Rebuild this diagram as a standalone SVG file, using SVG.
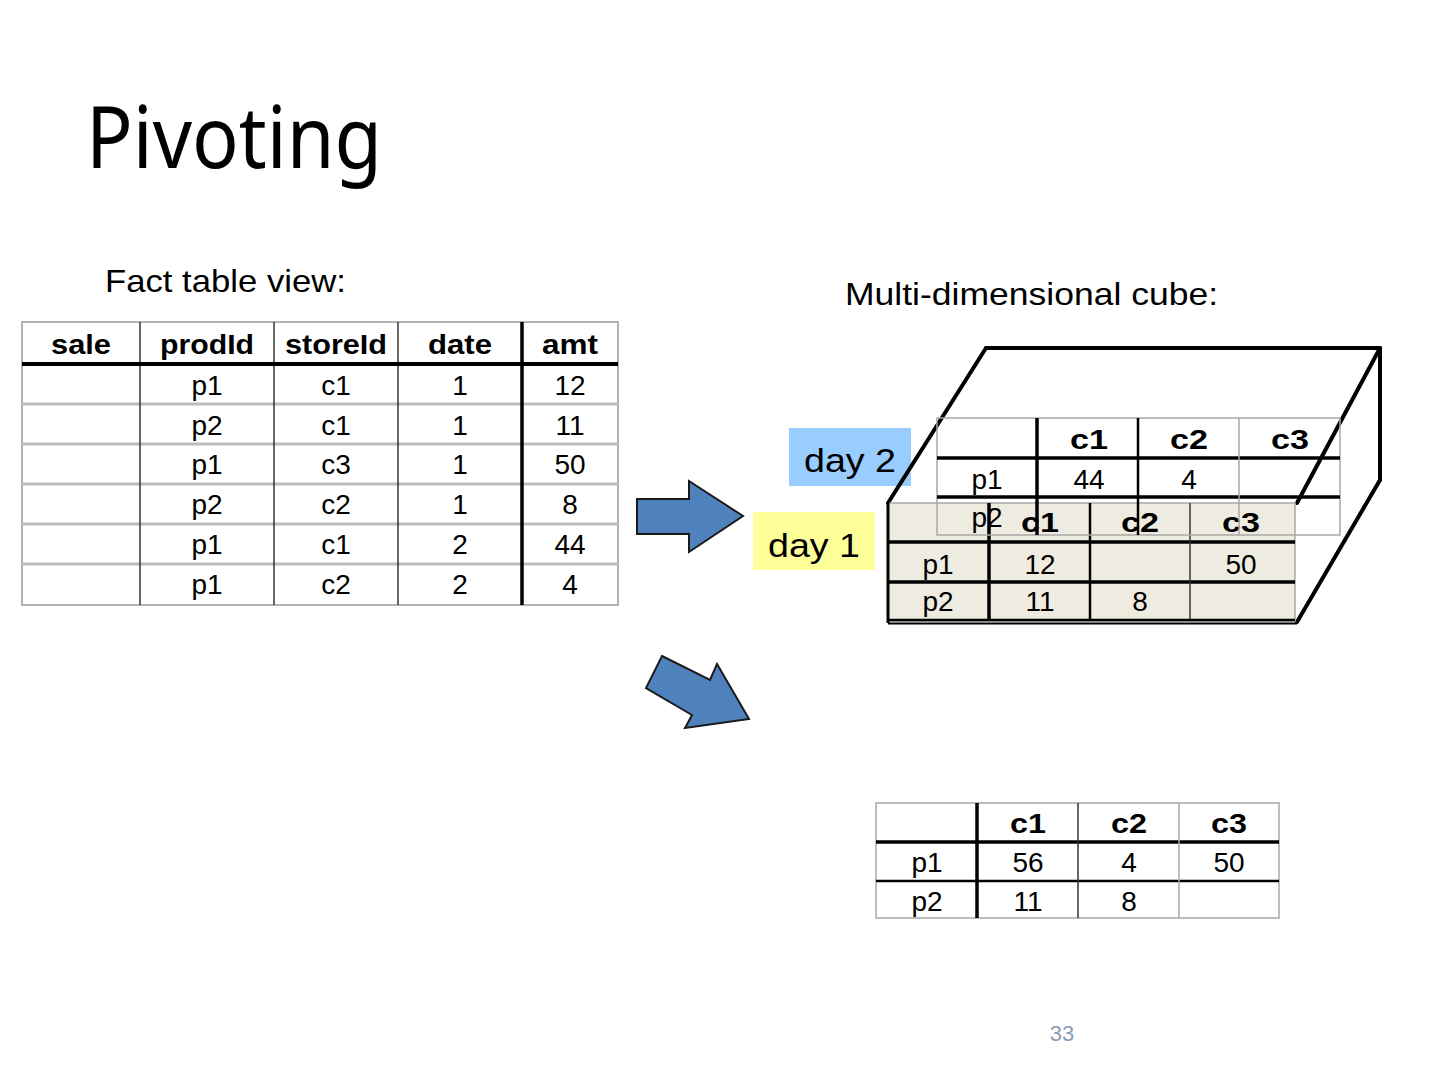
<svg xmlns="http://www.w3.org/2000/svg" width="1440" height="1080" viewBox="0 0 1440 1080">
<style>
  .title { font-family: "Noto Sans", "Open Sans", sans-serif; font-size: 86px; fill: #000; }
  .sub { font-family: "Liberation Sans", Arial, sans-serif; font-size: 32px; fill: #000; }
  .t { font-family: "Liberation Sans", Arial, sans-serif; font-size: 28px; fill: #000; text-anchor: middle; }
  .tb { font-family: "Liberation Sans", Arial, sans-serif; font-size: 28px; font-weight: bold; fill: #000; text-anchor: middle; }
  .day { font-family: "Liberation Sans", Arial, sans-serif; font-size: 33px; fill: #000; text-anchor: middle; }
  .border { fill: none; stroke: #b4b4b4; stroke-width: 2; }
  .thin { stroke: #333; stroke-width: 1.5; }
  .gray { stroke: #bcbcbc; stroke-width: 3; }
  .lgray { stroke: #a8a8a8; stroke-width: 1.5; }
  .thick { stroke: #000; stroke-width: 3.5; }
  .mid { stroke: #000; stroke-width: 2.5; }
  .cube { stroke: #000; stroke-width: 4; fill: none; stroke-linecap: round; }
  .arrow { fill: #4f81bd; stroke: #1a1a1a; stroke-width: 2; stroke-linejoin: miter; }
</style>

<text class="title" x="86" y="168" textLength="296" lengthAdjust="spacingAndGlyphs">Pivoting</text>
<text class="sub" x="105" y="292" textLength="241" lengthAdjust="spacingAndGlyphs">Fact table view:</text>
<text class="sub" x="845" y="305" textLength="373" lengthAdjust="spacingAndGlyphs">Multi-dimensional cube:</text>

<g id="fact-table">
  <rect class="border" x="22" y="322" width="596" height="283"/>
  <line class="gray" x1="22" y1="404" x2="618" y2="404"/>
  <line class="gray" x1="22" y1="444" x2="618" y2="444"/>
  <line class="gray" x1="22" y1="484" x2="618" y2="484"/>
  <line class="gray" x1="22" y1="524" x2="618" y2="524"/>
  <line class="gray" x1="22" y1="564" x2="618" y2="564"/>
  <line class="thin" x1="140" y1="322" x2="140" y2="605"/>
  <line class="thin" x1="274" y1="322" x2="274" y2="605"/>
  <line class="thin" x1="398" y1="322" x2="398" y2="605"/>
  <line class="thick" x1="522" y1="322" x2="522" y2="605"/>
  <line stroke="#000" stroke-width="4" x1="22" y1="364" x2="618" y2="364"/>
  <text class="tb" x="81" y="354" textLength="60" lengthAdjust="spacingAndGlyphs">sale</text>
  <text class="tb" x="207" y="354" textLength="94" lengthAdjust="spacingAndGlyphs">prodId</text>
  <text class="tb" x="336" y="354" textLength="102" lengthAdjust="spacingAndGlyphs">storeId</text>
  <text class="tb" x="460" y="354" textLength="64" lengthAdjust="spacingAndGlyphs">date</text>
  <text class="tb" x="570" y="354" textLength="56" lengthAdjust="spacingAndGlyphs">amt</text>
  <text class="t" x="207" y="395">p1</text><text class="t" x="336" y="395">c1</text><text class="t" x="460" y="395">1</text><text class="t" x="570" y="395">12</text>
  <text class="t" x="207" y="435">p2</text><text class="t" x="336" y="435">c1</text><text class="t" x="460" y="435">1</text><text class="t" x="570" y="435">11</text>
  <text class="t" x="207" y="474">p1</text><text class="t" x="336" y="474">c3</text><text class="t" x="460" y="474">1</text><text class="t" x="570" y="474">50</text>
  <text class="t" x="207" y="514">p2</text><text class="t" x="336" y="514">c2</text><text class="t" x="460" y="514">1</text><text class="t" x="570" y="514">8</text>
  <text class="t" x="207" y="554">p1</text><text class="t" x="336" y="554">c1</text><text class="t" x="460" y="554">2</text><text class="t" x="570" y="554">44</text>
  <text class="t" x="207" y="594">p1</text><text class="t" x="336" y="594">c2</text><text class="t" x="460" y="594">2</text><text class="t" x="570" y="594">4</text>
</g>

<g id="connectors">
  <polygon id="arrow-right" class="arrow" points="637,499 689,499 689,481 743,516 689,552 689,534 637,534"/>
  <polygon id="arrow-diag" class="arrow" points="662,656 710,680 717,664 749,719 685,728 692,715 646,688"/>
</g>

<g id="day2-label">
  <rect x="789" y="428" width="122" height="58" fill="#99ccff"/>
  <text class="day" x="850" y="472" textLength="92" lengthAdjust="spacingAndGlyphs">day 2</text>
</g>

<g id="cube">
  <line class="cube" x1="986" y1="348" x2="1380" y2="348"/>
  <line class="cube" x1="1380" y1="348" x2="1380" y2="480"/>
  <line class="cube" x1="986" y1="348" x2="888" y2="503"/>
  <line class="cube" x1="1380" y1="348" x2="1297" y2="503"/>
  <line class="cube" x1="1380" y1="480" x2="1297" y2="622"/>
</g>

<g id="day1-table">
  <rect x="888" y="503" width="407" height="118" fill="#eeece1" stroke="#a8a8a8" stroke-width="1.5"/>
  <line class="thick" x1="888" y1="542" x2="1295" y2="542"/>
  <line class="thick" x1="888" y1="582" x2="1295" y2="582"/>
  <line class="thick" x1="989" y1="503" x2="989" y2="621"/>
  <line class="mid" x1="1090" y1="503" x2="1090" y2="621"/>
  <line class="thin" x1="1190" y1="503" x2="1190" y2="621"/>
  <line stroke="#000" stroke-width="3" x1="888" y1="502" x2="888" y2="623"/>
  <line stroke="#000" stroke-width="2.5" x1="888" y1="620" x2="1295" y2="620"/>
  <line stroke="#000" stroke-width="2" x1="888" y1="623.5" x2="1297" y2="623.5"/>
  <text class="tb" x="1040" y="532" textLength="38" lengthAdjust="spacingAndGlyphs">c1</text>
  <text class="tb" x="1140" y="532" textLength="38" lengthAdjust="spacingAndGlyphs">c2</text>
  <text class="tb" x="1241" y="532" textLength="38" lengthAdjust="spacingAndGlyphs">c3</text>
  <text class="t" x="938" y="574">p1</text><text class="t" x="1040" y="574">12</text><text class="t" x="1241" y="574">50</text>
  <text class="t" x="938" y="611">p2</text><text class="t" x="1040" y="611">11</text><text class="t" x="1140" y="611">8</text>
</g>

<g id="day2-table">
  <rect x="937" y="418" width="403" height="117" fill="none" stroke="#a8a8a8" stroke-width="1.5"/>
  <line class="thick" x1="937" y1="458" x2="1340" y2="458"/>
  <line class="thick" x1="937" y1="497" x2="1340" y2="497"/>
  <line class="thick" x1="1037" y1="418" x2="1037" y2="535"/>
  <line class="mid" x1="1138" y1="418" x2="1138" y2="535"/>
  <line class="lgray" x1="1239" y1="418" x2="1239" y2="535"/>
  <text class="tb" x="1089" y="449" textLength="38" lengthAdjust="spacingAndGlyphs">c1</text>
  <text class="tb" x="1189" y="449" textLength="38" lengthAdjust="spacingAndGlyphs">c2</text>
  <text class="tb" x="1290" y="449" textLength="38" lengthAdjust="spacingAndGlyphs">c3</text>
  <text class="t" x="987" y="489">p1</text><text class="t" x="1089" y="489">44</text><text class="t" x="1189" y="489">4</text>
  <text class="t" x="987" y="527">p2</text>
</g>

<g id="day1-label">
  <rect x="753" y="512" width="122" height="58" fill="#ffff99"/>
  <text class="day" x="814" y="557" textLength="92" lengthAdjust="spacingAndGlyphs">day 1</text>
</g>

<g id="result-table">
  <rect x="876" y="803" width="403" height="115" fill="none" stroke="#a8a8a8" stroke-width="1.5"/>
  <line class="thick" x1="876" y1="842" x2="1279" y2="842"/>
  <line class="mid" x1="876" y1="881" x2="1279" y2="881"/>
  <line class="thick" x1="977" y1="803" x2="977" y2="918"/>
  <line class="thin" x1="1078" y1="803" x2="1078" y2="918"/>
  <line class="lgray" x1="1179" y1="803" x2="1179" y2="918"/>
  <text class="tb" x="1028" y="833" textLength="36" lengthAdjust="spacingAndGlyphs">c1</text>
  <text class="tb" x="1129" y="833" textLength="36" lengthAdjust="spacingAndGlyphs">c2</text>
  <text class="tb" x="1229" y="833" textLength="36" lengthAdjust="spacingAndGlyphs">c3</text>
  <text class="t" x="927" y="872">p1</text><text class="t" x="1028" y="872">56</text><text class="t" x="1129" y="872">4</text><text class="t" x="1229" y="872">50</text>
  <text class="t" x="927" y="911">p2</text><text class="t" x="1028" y="911">11</text><text class="t" x="1129" y="911">8</text>
</g>

<text x="1062" y="1041" font-family="Liberation Sans, Arial, sans-serif" font-size="22" fill="#8c9bb5" text-anchor="middle">33</text>
</svg>
